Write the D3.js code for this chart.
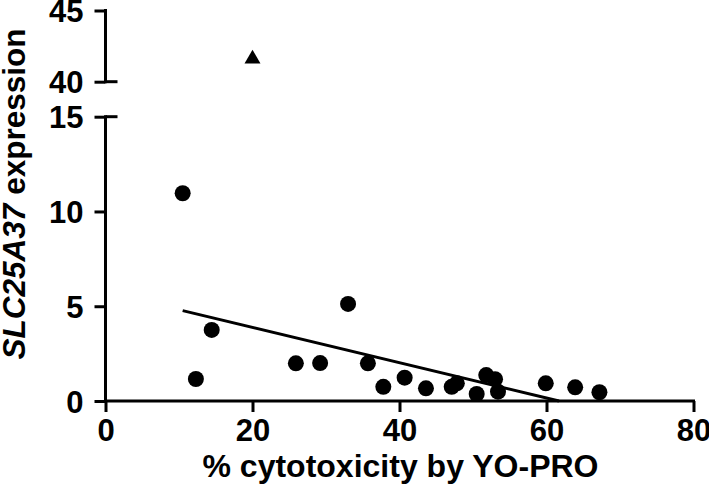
<!DOCTYPE html>
<html><head><meta charset="utf-8">
<script src="https://cdn.jsdelivr.net/npm/d3@7"></script>
<style>body{margin:0;background:#fff}svg{display:block}text{font-family:"Liberation Sans",Arial,sans-serif;font-weight:bold;fill:#000}</style>
</head><body>
<svg id="c" width="709" height="499"></svg>
<script>
// data
const cytotox = [10.5, 12.3, 14.45, 25.9, 29.2, 33.0, 35.7, 37.8, 40.7, 43.6, 47.1, 47.8, 50.5, 51.8, 53.0, 53.4, 59.9, 63.9, 67.2];
const expression = [10.96, 1.16, 3.75, 1.99, 2.0, 5.12, 1.99, 0.75, 1.23, 0.67, 0.75, 0.93, 0.37, 1.37, 1.15, 0.49, 0.93, 0.72, 0.46];
const outlierX = [20.0];
const outlierY = [41.6];
const fitX = [10.5, 61.7];
const fitY = [4.77, 0];
const xTicks = [0, 20, 40, 60, 80];
const yLowTicks = [0, 5, 10, 15];
const yHighTicks = [40, 45];

const svg = d3.select("#c");
const x = d3.scaleLinear().domain([0, 80]).range([105.5, 693.5]);
const yLow = d3.scaleLinear().domain([0, 15]).range([401, 116.7]);
const yHigh = d3.scaleLinear().domain([40, 45]).range([81.7, 10.5]);
const SW = 3;
const FS = 31;

// x axis
const gx = svg.append("g").attr("transform", `translate(0,${yLow(0)})`)
  .call(d3.axisBottom(x).tickValues(xTicks).tickSize(11).tickPadding(6).tickFormat(d3.format("d")));
// lower y axis
const gyl = svg.append("g").attr("transform", `translate(${x(0)},0)`)
  .call(d3.axisLeft(yLow).tickValues(yLowTicks).tickSize(11).tickPadding(11).tickFormat(d3.format("d")));
// upper y axis
const gyh = svg.append("g").attr("transform", `translate(${x(0)},0)`)
  .call(d3.axisLeft(yHigh).tickValues(yHighTicks).tickSize(11).tickPadding(11).tickFormat(d3.format("d")));

[gx, gyl, gyh].forEach(g => {
  g.select(".domain").remove();
  g.selectAll("line").attr("stroke", "#000").attr("stroke-width", SW);
  g.selectAll("text").attr("font-size", FS).attr("font-family", "Liberation Sans, Arial, sans-serif").attr("font-weight", "bold").attr("fill", "#000");
});
gx.selectAll("text").attr("dy", "0.75em");
gyl.selectAll("text").attr("dy", "0.36em");
gyh.selectAll("text").attr("dy", "0.36em");

// axis lines
svg.append("line").attr("x1", x(0) - 1.5).attr("x2", x(80) + 1.5).attr("y1", yLow(0)).attr("y2", yLow(0)).attr("stroke", "#000").attr("stroke-width", SW);
svg.append("line").attr("x1", x(0)).attr("x2", x(0)).attr("y1", yLow(15) - 1.5).attr("y2", yLow(0)).attr("stroke", "#000").attr("stroke-width", SW);
svg.append("line").attr("x1", x(0)).attr("x2", x(0)).attr("y1", yHigh(45) - 1.5).attr("y2", yHigh(40) + 1.5).attr("stroke", "#000").attr("stroke-width", SW);
// break caps
svg.append("line").attr("x1", x(0)).attr("x2", x(0) + 12).attr("y1", yHigh(40)).attr("y2", yHigh(40)).attr("stroke", "#000").attr("stroke-width", SW);
svg.append("line").attr("x1", x(0)).attr("x2", x(0) + 12).attr("y1", yLow(15)).attr("y2", yLow(15)).attr("stroke", "#000").attr("stroke-width", SW);

// fit line
svg.append("path").datum(fitX.map((v, i) => [v, fitY[i]]))
  .attr("d", d3.line().x(d => x(d[0])).y(d => yLow(d[1])))
  .attr("fill", "none").attr("stroke", "#000").attr("stroke-width", 3);

// points
svg.append("g").selectAll("circle").data(cytotox.map((v, i) => [v, expression[i]])).join("circle")
  .attr("cx", d => x(d[0])).attr("cy", d => yLow(d[1])).attr("r", 8).attr("fill", "#000");

// outlier triangle
svg.append("g").selectAll("path").data(outlierX.map((v, i) => [v, outlierY[i]])).join("path")
  .attr("d", d3.symbol().type(d3.symbolTriangle).size(110))
  .attr("transform", d => `translate(${x(d[0])},${yHigh(d[1])})`).attr("fill", "#000");

// axis titles
svg.append("text").attr("x", (x(0) + x(80)) / 2 + 1).attr("y", 477).attr("text-anchor", "middle").attr("font-size", 32)
  .text("% cytotoxicity by YO-PRO");
const yt = svg.append("text").attr("transform", "translate(25,194) rotate(-90)").attr("text-anchor", "middle").attr("font-size", 31.5);
yt.append("tspan").attr("font-style", "italic").text("SLC25A37");
yt.append("tspan").text(" expression");
</script>
</body></html>
